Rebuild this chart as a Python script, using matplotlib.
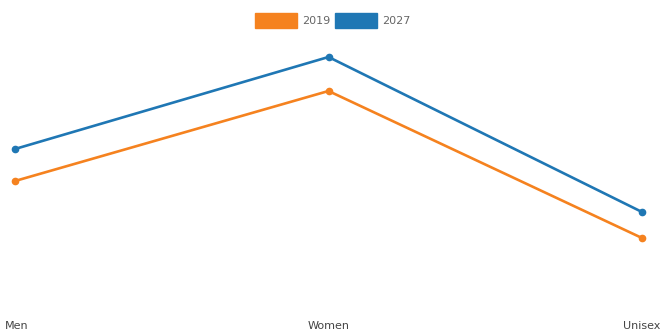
import numpy as np
import matplotlib.pyplot as plt

categories = ['Men', 'Women', 'Unisex']
years = ['2019', '2027']
values_2019 = [13.4, 22.4, 7.7]
values_2027 = [16.6, 25.8, 10.3]
colors = ['#f5821f', '#1f77b4']

fig = plt.figure(figsize=(6.71, 3.36), dpi=100)
ax = fig.add_axes([15 / 671, 1 - 315 / 336, (642 - 15) / 671, 275 / 336])

x = np.arange(len(categories))
for vals, col, yr in zip([values_2019, values_2027], colors, years):
    ax.plot(x, vals, color=col, lw=1.9, marker='o', ms=4.5, label=yr,
            solid_capstyle='round', clip_on=False)

ax.set_xlim(0, len(categories) - 1)
ax.set_ylim(0, 27.5)
ax.axis('off')

# category labels along the bottom
aligns = ['left', 'center', 'right']
offsets = [-10, 0, 18]
for xi, cat, ha, off in zip(x, categories, aligns, offsets):
    ax.annotate(cat, (xi, 0), xytext=(off * 0.72, -8), textcoords='offset points',
                ha=ha, va='center', fontsize=8, color='#444444',
                annotation_clip=False)

# legend boxes at the top
for i, (yr, col) in enumerate(zip(years, colors)):
    x0 = (255 + 80 * i) / 671
    fig.patches.append(plt.Rectangle((x0, 1 - 28 / 336), 42 / 671, 15 / 336,
                                     transform=fig.transFigure, color=col))
    fig.text(x0 + 47 / 671, 1 - 20.5 / 336, yr, fontsize=8, color='#666666',
             va='center', ha='left')

fig.savefig('out.png', dpi=100)
